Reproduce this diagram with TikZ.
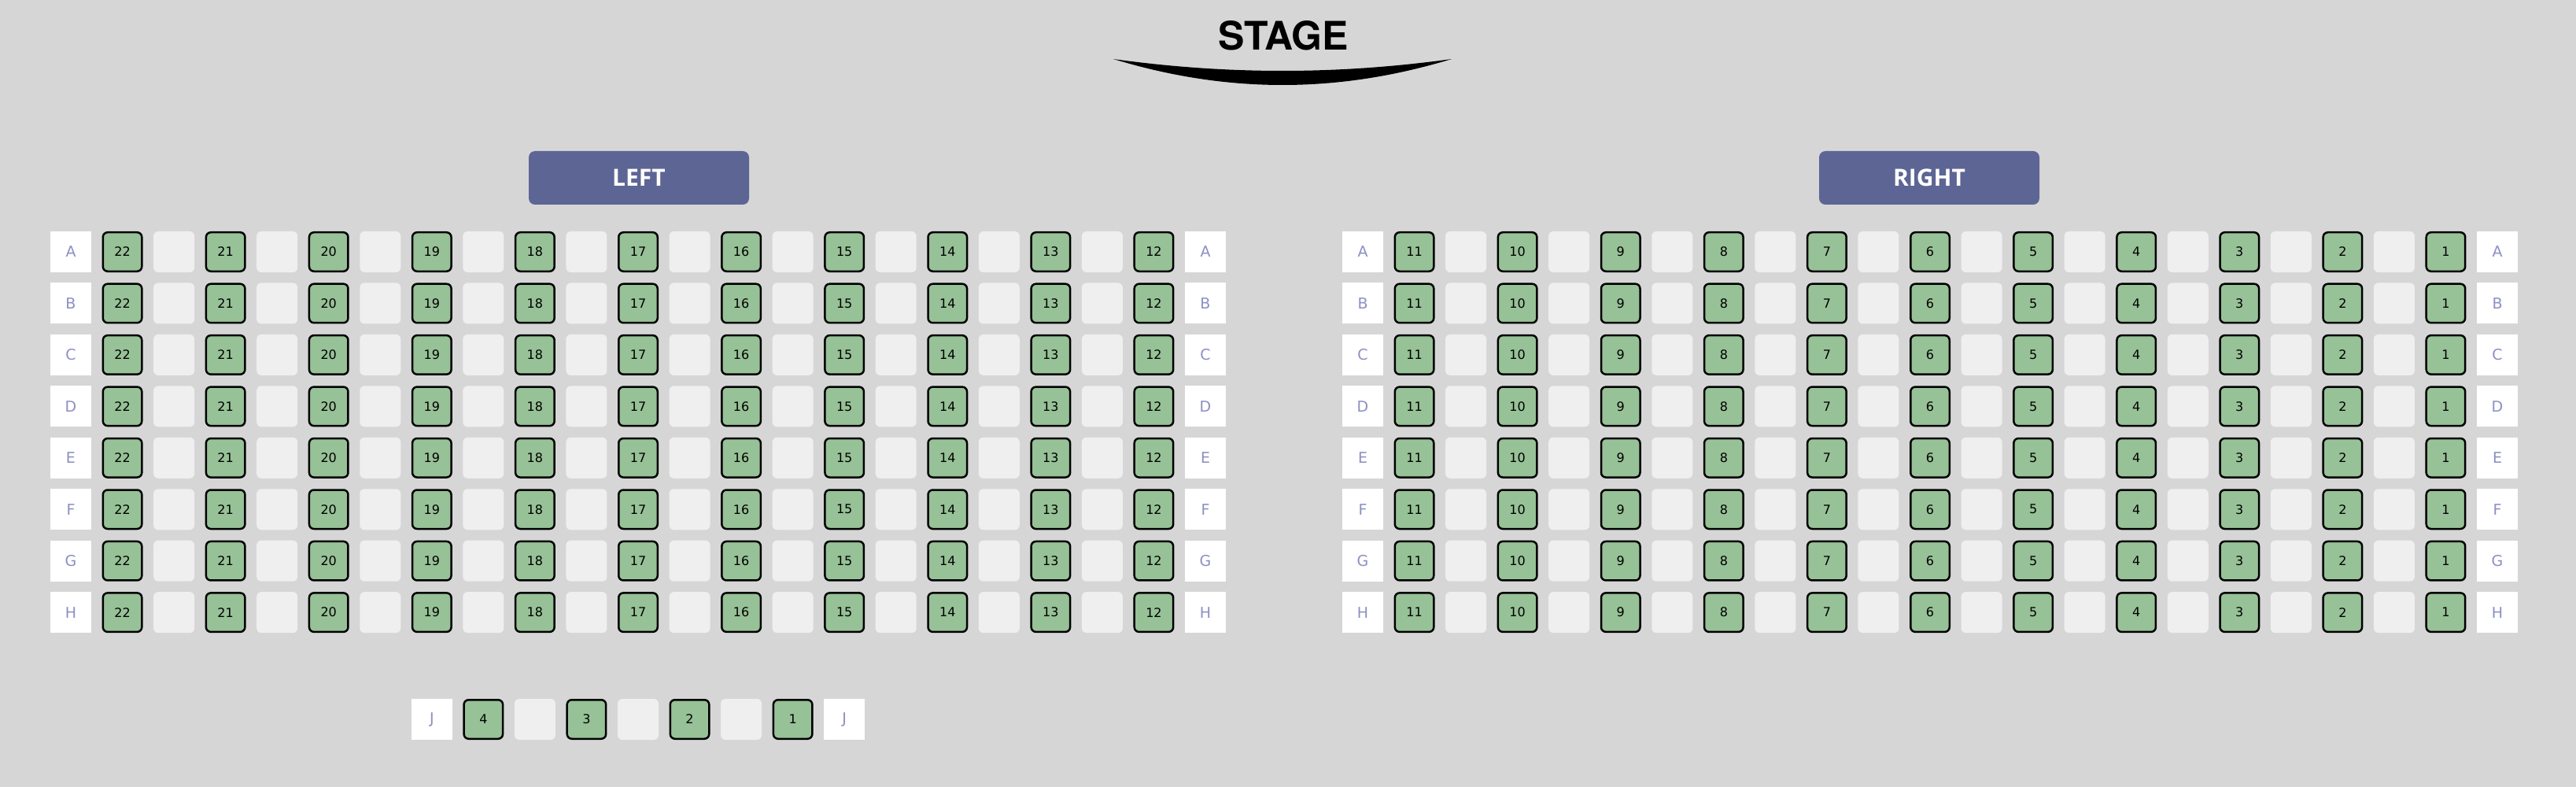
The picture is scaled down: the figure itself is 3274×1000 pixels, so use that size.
\documentclass[tikz,border=0pt]{standalone}
\usepackage{fontspec}
\setmainfont{DejaVu Sans}
\newfontfamily\headfont{Open Sans}
\newfontfamily\stagefont{TeX Gyre Heros}
\definecolor{bgcol}{RGB}{214,214,214}
\definecolor{seatgreen}{RGB}{151,193,151}
\definecolor{emptygray}{RGB}{239,239,239}
\definecolor{labelblue}{RGB}{140,144,194}
\definecolor{headblue}{RGB}{93,101,149}
\begin{document}
\begin{tikzpicture}[x=1pt,y=-1pt,
  seat/.style={draw=black,line width=2.5pt,fill=seatgreen,rounded corners=6pt,
    minimum size=49.5pt,inner sep=0pt,font=\fontsize{16}{16}\selectfont},
  gapseat/.style={fill=emptygray,rounded corners=6pt,minimum size=52pt,inner sep=0pt},
  rowlabel/.style={fill=white,minimum size=52pt,inner sep=0pt,text=labelblue,
    font=\fontsize{19}{19}\selectfont},
  header/.style={fill=headblue,rounded corners=8pt,minimum width=280pt,
    minimum height=68pt,inner sep=0pt,text=white,
    font=\headfont\bfseries\fontsize{30}{30}\selectfont}]
\fill[bgcol] (0,0) rectangle (3274,1000);
\useasboundingbox (0,0) rectangle (3274,1000);
% stage
\node[anchor=base,font=\stagefont\bfseries\fontsize{50}{50}\selectfont] (stage) at (1631,63.3) {STAGE};
\fill[black] (1415,75) .. controls (1560,119) and (1700,119) .. (1845,75)
  .. controls (1700,95) and (1560,95) .. (1415,75);
% headers
\node[header] (hleft) at (812,226) {LEFT};
\node[header] (hright) at (2452,226) {RIGHT};
% rows A-H
\foreach \r [count=\i from 0] in {A,B,C,D,E,F,G,H}{
  \pgfmathsetmacro{\yy}{320+\i*65.45}
  % left block
  \node[rowlabel] (LL-\r) at (90,\yy) {\r};
  \node[rowlabel] (LR-\r) at ({90+22*65.545},\yy) {\r};
  \foreach \k in {0,...,10}{
    \pgfmathtruncatemacro{\num}{22-\k}
    \node[seat] (L-\r-\num) at ({90+(1+2*\k)*65.545},\yy) {\num};
  }
  \foreach \k in {0,...,9}{
    \node[gapseat] (LG-\r-\k) at ({90+(2+2*\k)*65.545},\yy) {};
  }
  % right block
  \node[rowlabel] (RL-\r) at (1732,\yy) {\r};
  \node[rowlabel] (RR-\r) at ({1732+22*65.545},\yy) {\r};
  \foreach \k in {0,...,10}{
    \pgfmathtruncatemacro{\num}{11-\k}
    \node[seat] (R-\r-\num) at ({1732+(1+2*\k)*65.545},\yy) {\num};
  }
  \foreach \k in {0,...,9}{
    \node[gapseat] (RG-\r-\k) at ({1732+(2+2*\k)*65.545},\yy) {};
  }
}
% row J
\node[rowlabel] (JL) at ({90+7*65.545},914) {J};
\node[rowlabel] (JR) at ({90+15*65.545},914) {J};
\foreach \k in {0,...,3}{
  \pgfmathtruncatemacro{\num}{4-\k}
  \node[seat] (J-\num) at ({90+(8+2*\k)*65.545},914) {\num};
}
\foreach \k in {0,...,2}{
  \node[gapseat] (JG-\k) at ({90+(9+2*\k)*65.545},914) {};
}
\end{tikzpicture}
\end{document}
